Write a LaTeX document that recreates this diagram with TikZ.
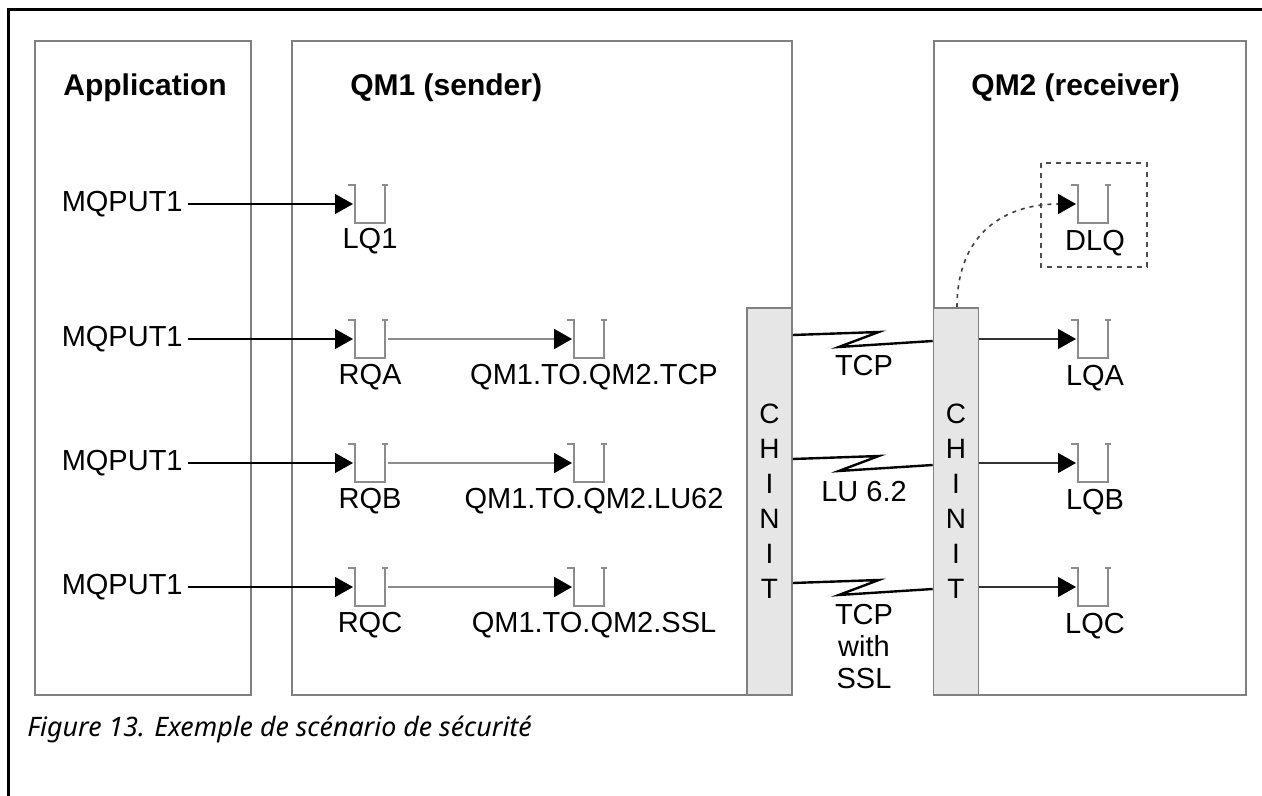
\documentclass[tikz,border=0pt]{standalone}
\usepackage{fontspec}
\setmainfont{Liberation Sans}
\newfontfamily\capfont{Noto Sans}
\usetikzlibrary{arrows.meta, calc, positioning}
\definecolor{boxgray}{HTML}{808080}
\definecolor{chinitfill}{HTML}{E6E6E6}
\definecolor{queuegray}{HTML}{8C8C8C}
\newcommand{\zlink}[1]{%
	\draw[zlink] ($(chinita.east |- #1)+(0,-4)$) -- ++(86,-3) -- ++(-40,15) -- ($(chinitb.west |- #1)+(0,2)$);%
}
\tikzset{
	msgqueue/.pic={
			\draw[queuegray, line width=0.8pt]
			(-22,-19) --
			(-15,-19) --
			(-15,19) --
			(15,19) --
			(15,-19);
			\draw[queuegray, line width=0.8pt] (12,-19) -- (18,-19);
			\coordinate (-in) at (-17,0);
			\coordinate (-out) at (18,0);
		}
}
\tikzset{
	panel/.style={draw=boxgray, line width=0.8pt}
}
\tikzset{
	chinit/.style={draw=boxgray, fill=chinitfill, line width=0.8pt, minimum width=22.5pt, minimum height=193.5pt, inner sep=0pt, align=center, font=\fontsize{14}{17.5}\selectfont}
}
\tikzset{
	title/.style={font=\fontsize{15}{17}\selectfont\bfseries, anchor=base west, inner sep=0pt},
	qtext/.style={font=\fontsize{14.5}{16}\selectfont, inner sep=0pt},
	captext/.style={font={\capfont\itshape\fontsize{13.4}{15}\selectfont}, anchor=base west, inner sep=0pt}
}
\tikzset{
	putarrow/.style={draw=black, line width=0.6pt, shorten <=2.5pt, -{Triangle[length=9pt,width=10pt]}},
	xmitarrow/.style={draw=queuegray, line width=1pt, -{Triangle[length=9pt,width=10pt,color=black]}},
	getarrow/.style={draw=black!80, line width=0.6pt, -{Triangle[length=9pt,width=10pt,color=black]}},
	dlqarrow/.style={draw=black!75, line width=0.8pt, dash pattern=on 2pt off 2.5pt, -{Triangle[length=9pt,width=10pt,color=black]}},
	dlqbox/.style={draw=black!70, line width=0.8pt, dash pattern=on 2.5pt off 2.5pt},
	zlink/.style={draw=black, line width=1.2pt, line join=miter}
}

\begin{document}
\begin{tikzpicture}[x=0.5pt, y=-0.5pt]
\useasboundingbox (0,0) rectangle (1262,796);

\draw[line width=1.5pt] (1262,10) -- (8,10) -- (8,796);

\coordinate (r1) at (0,204);
\coordinate (r2) at (0,339);
\coordinate (r3) at (0,463);
\coordinate (r4) at (0,587);

\draw[panel] (35,41) rectangle (251,695);
\draw[panel] (292,41) rectangle (792,695);
\draw[panel] (934,41) rectangle (1246,695);

\node[title] (tapp) at (63,96) {Application};
\node[title] (tqm1) at (350,96) {QM1 (sender)};
\node[title] (tqm2) at (971,96) {QM2 (receiver)};

\node[chinit] (chinita) at (769.5,501.5) {C\\H\\I\\N\\I\\T};
\node[chinit] (chinitb) at (956,501.5) {C\\H\\I\\N\\I\\T};

\pic (lq1) at (370,204) {msgqueue};
\pic (rqa) at (370,339) {msgqueue};
\pic (rqb) at (370,463) {msgqueue};
\pic (rqc) at (370,587) {msgqueue};
\pic (xtcp) at (589,339) {msgqueue};
\pic (xlu) at (589,463) {msgqueue};
\pic (xssl) at (589,587) {msgqueue};
\pic (dlq) at (1093,204) {msgqueue};
\pic (lqa) at (1093,339) {msgqueue};
\pic (lqb) at (1093,463) {msgqueue};
\pic (lqc) at (1093,587) {msgqueue};

\node[qtext, anchor=east] (put1) at (183,204) {MQPUT1};
\node[qtext, anchor=east] (put2) at (183,339) {MQPUT1};
\node[qtext, anchor=east] (put3) at (183,463) {MQPUT1};
\node[qtext, anchor=east] (put4) at (183,587) {MQPUT1};

\node[qtext] (lq1lbl) at (370,241) {LQ1};
\node[qtext] (rqalbl) at (370,377) {RQA};
\node[qtext] (rqblbl) at (370,501) {RQB};
\node[qtext] (rqclbl) at (370,625) {RQC};
\node[qtext] (xtcplbl) at (594,377) {QM1.TO.QM2.TCP};
\node[qtext] (xlulbl) at (594,501) {QM1.TO.QM2.LU62};
\node[qtext] (xssllbl) at (594,625) {QM1.TO.QM2.SSL};
\node[qtext] (dlqlbl) at (1095,243) {DLQ};
\node[qtext] (lqalbl) at (1095,378) {LQA};
\node[qtext] (lqblbl) at (1095,502) {LQB};
\node[qtext] (lqclbl) at (1095,626) {LQC};

\draw[putarrow] (put1.east) -- (lq1-in);
\draw[putarrow] (put2.east) -- (rqa-in);
\draw[putarrow] (put3.east) -- (rqb-in);
\draw[putarrow] (put4.east) -- (rqc-in);

\draw[xmitarrow] (rqa-out) -- (xtcp-in);
\draw[xmitarrow] (rqb-out) -- (xlu-in);
\draw[xmitarrow] (rqc-out) -- (xssl-in);

\zlink{r2}
\zlink{r3}
\zlink{r4}

\node[qtext] (ltcp) at (864,366) {TCP};
\node[qtext] (llu) at (864,492) {LU 6.2};
\node[qtext, align=center, font=\fontsize{14.5}{16}\selectfont] (lssl) at (864,647) {TCP\\with\\SSL};

\draw[getarrow] (chinitb.east |- lqa-in) -- (lqa-in);
\draw[getarrow] (chinitb.east |- lqb-in) -- (lqb-in);
\draw[getarrow] (chinitb.east |- lqc-in) -- (lqc-in);

\draw[dlqbox] (1041,163) rectangle (1147,267);
\draw[dlqarrow] ($(chinitb.north)+(1,0)$) .. controls +(0,-75) and +(-70,0) .. (dlq-in);

\node[captext] (cap) at (27,736) {Figure 13. Exemple de scénario de sécurité};
\end{tikzpicture}
\end{document}
